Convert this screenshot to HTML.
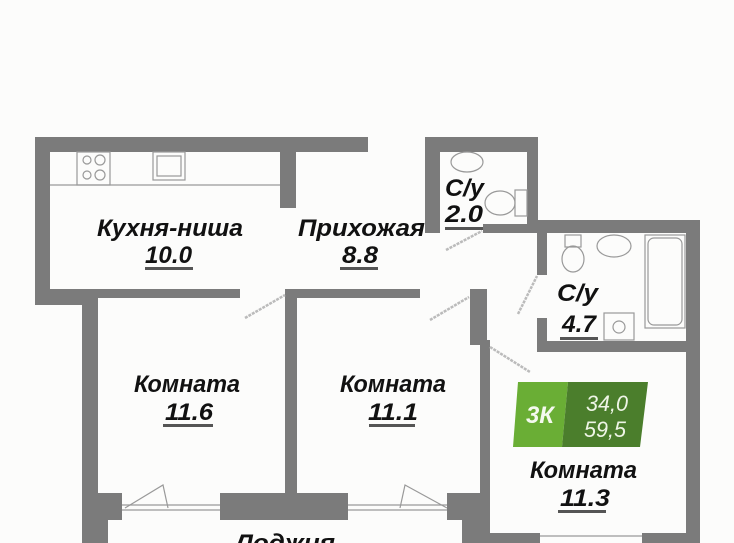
<!DOCTYPE html>
<html><head><meta charset="utf-8"><style>
html,body{margin:0;padding:0;background:#fcfcfb;}
svg{display:block}
text{font-family:"Liberation Sans",sans-serif;font-weight:bold;font-style:italic;fill:#111;}
</style></head><body>
<svg width="734" height="543" viewBox="0 0 734 543" xmlns="http://www.w3.org/2000/svg">
<rect width="734" height="543" fill="#fcfcfb"/>
<g fill="#7b7b7b">
<rect x="35" y="137" width="333" height="15"/>
<rect x="425" y="137" width="113" height="15"/>
<rect x="35" y="137" width="15" height="168"/>
<rect x="35" y="290" width="63" height="15"/>
<rect x="35" y="289" width="205" height="9"/>
<rect x="280" y="137" width="16" height="71"/>
<rect x="285" y="289" width="135" height="9"/>
<rect x="82" y="289" width="16" height="231"/>
<rect x="82" y="493" width="40" height="27"/>
<rect x="82" y="520" width="26" height="23"/>
<rect x="285" y="289" width="12" height="210"/>
<rect x="220" y="493" width="128" height="27"/>
<rect x="447" y="493" width="43" height="27"/>
<rect x="462" y="520" width="28" height="23"/>
<rect x="470" y="289" width="17" height="56"/>
<rect x="480" y="340" width="10" height="203"/>
<rect x="425" y="137" width="15" height="96"/>
<rect x="527" y="137" width="11" height="96"/>
<rect x="483" y="224" width="55" height="9"/>
<rect x="527" y="220" width="173" height="13"/>
<rect x="686" y="220" width="14" height="323"/>
<rect x="537" y="220" width="10" height="55"/>
<rect x="537" y="318" width="10" height="34"/>
<rect x="537" y="341" width="163" height="11"/>
<rect x="480" y="533" width="60" height="10"/>
<rect x="642" y="533" width="58" height="10"/>
</g>
<g fill="none" stroke="#999" stroke-width="1.2">
<line x1="50" y1="185" x2="280" y2="185"/>
<rect x="77" y="152" width="33" height="33"/>
<circle cx="87" cy="160" r="4"/><circle cx="100" cy="160" r="5"/>
<circle cx="87" cy="175" r="4"/><circle cx="100" cy="175" r="5"/>
<rect x="153" y="152" width="32" height="28"/>
<rect x="157" y="156" width="24" height="20"/>
<ellipse cx="467" cy="162" rx="16" ry="10"/>
<ellipse cx="500" cy="203" rx="15" ry="12"/>
<rect x="515" y="190" width="12" height="26"/>
<ellipse cx="573" cy="259" rx="11" ry="13"/>
<rect x="565" y="235" width="16" height="12"/>
<ellipse cx="614" cy="246" rx="17" ry="11"/>
<rect x="645" y="235" width="40" height="93"/>
<rect x="648" y="238" width="34" height="87" rx="6"/>
<rect x="604" y="313" width="30" height="27"/>
<circle cx="619" cy="327" r="6"/>
<line x1="122" y1="505" x2="220" y2="505"/><line x1="122" y1="510" x2="220" y2="510"/>
<line x1="348" y1="505" x2="447" y2="505"/><line x1="348" y1="510" x2="447" y2="510"/>
<line x1="540" y1="536" x2="642" y2="536"/>
<path d="M125 508 L163 485 L168 508"/>
<path d="M447 508 L405 485 L400 508"/>
</g>
<g stroke="#bbb" stroke-width="2.5" stroke-dasharray="3 1">
<line x1="245" y1="318" x2="285" y2="295"/>
<line x1="446" y1="250" x2="482" y2="231"/>
<line x1="430" y1="320" x2="469" y2="297"/>
<line x1="518" y1="314" x2="537" y2="276"/>
<line x1="490" y1="347" x2="530" y2="372"/>
</g>
<polygon points="518,382 568,382 562,447 513,447" fill="#6aae35"/>
<polygon points="568,382 648,382 640,447 562,447" fill="#4b7e2c"/>
<text x="526" y="423" font-size="24" textLength="28" lengthAdjust="spacingAndGlyphs" style="fill:#f4f9ee">3К</text>
<text x="586" y="411" font-size="22" textLength="42" lengthAdjust="spacingAndGlyphs" style="fill:#eef5e6;font-weight:normal">34,0</text>
<text x="584" y="437" font-size="22" textLength="42" lengthAdjust="spacingAndGlyphs" style="fill:#eef5e6;font-weight:normal">59,5</text>
<g font-size="24" lengthAdjust="spacingAndGlyphs">
<text x="97" y="236" textLength="146" lengthAdjust="spacingAndGlyphs">Кухня-ниша</text>
<text x="145" y="263" textLength="47" lengthAdjust="spacingAndGlyphs">10.0</text>
<text x="298" y="236" textLength="127" lengthAdjust="spacingAndGlyphs">Прихожая</text>
<text x="342" y="263" textLength="36" lengthAdjust="spacingAndGlyphs">8.8</text>
<text x="445" y="196" textLength="39" lengthAdjust="spacingAndGlyphs">С/у</text>
<text x="445" y="222" textLength="38" lengthAdjust="spacingAndGlyphs">2.0</text>
<text x="557" y="301" textLength="41" lengthAdjust="spacingAndGlyphs">С/у</text>
<text x="562" y="332" textLength="34" lengthAdjust="spacingAndGlyphs">4.7</text>
<text x="134" y="392" textLength="106" lengthAdjust="spacingAndGlyphs">Комната</text>
<text x="165" y="420" textLength="48" lengthAdjust="spacingAndGlyphs">11.6</text>
<text x="340" y="392" textLength="106" lengthAdjust="spacingAndGlyphs">Комната</text>
<text x="368" y="420" textLength="50" lengthAdjust="spacingAndGlyphs">11.1</text>
<text x="530" y="478" textLength="107" lengthAdjust="spacingAndGlyphs">Комната</text>
<text x="560" y="506" textLength="50" lengthAdjust="spacingAndGlyphs">11.3</text>
<text x="235" y="551" textLength="100" lengthAdjust="spacingAndGlyphs">Лоджия</text>
</g>
<g fill="#555">
<rect x="145" y="267" width="48" height="3"/>
<rect x="340" y="267" width="38" height="3"/>
<rect x="445" y="227" width="38" height="3"/>
<rect x="560" y="337" width="38" height="3"/>
<rect x="163" y="424" width="50" height="3"/>
<rect x="369" y="424" width="46" height="3"/>
<rect x="558" y="510" width="48" height="3"/>
</g>
</svg>
</body></html>
